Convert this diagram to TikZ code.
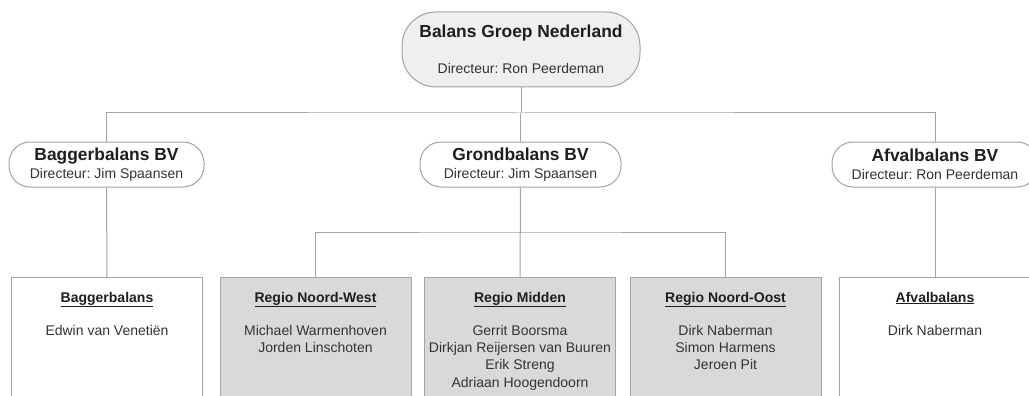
\documentclass[tikz,border=0pt]{standalone}
\usepackage{fontspec}
\setmainfont{Liberation Sans}
\frenchspacing
\definecolor{lin}{HTML}{A3A3A3}
\definecolor{topfill}{HTML}{EFEFEF}
\definecolor{grayfill}{HTML}{D9D9D9}
\definecolor{txt}{HTML}{333333}
\definecolor{ttl}{HTML}{1E1E1E}
\newcommand{\ttlf}{\fontsize{17.4}{18}\selectfont\bfseries\color{ttl}}
\newcommand{\hdr}[1]{{\bfseries\color{ttl}\underline{#1}}}
\begin{document}
\begin{tikzpicture}[x=1pt,y=-1pt,
  pill/.style={draw=lin, line width=1pt, fill=white, rounded corners=21pt, inner sep=0pt,
    minimum height=45pt, align=center, text=txt, font={\frenchspacing\fontsize{14}{18}\selectfont}},
  toppill/.style={pill, fill=topfill, rounded corners=34pt, minimum width=238pt, minimum height=75pt},
  wbox/.style={draw=lin, line width=1pt, fill=white, inner sep=0pt, minimum width=191pt,
    minimum height=160pt, anchor=north},
  gbox/.style={wbox, fill=grayfill},
  btext/.style={anchor=north, inner sep=0pt, align=center, text=txt,
    font={\frenchspacing\fontsize{14}{17.3}\selectfont}},
  conn/.style={draw=lin, line width=1pt}]
\useasboundingbox (0,0) rectangle (1029,396);
\clip (0,0) rectangle (1029,396);
\fill[white] (0,0) rectangle (1029,396);

% top
\node[toppill] (top) at (521,49.5) {{\ttlf Balans Groep Nederland}\\[18pt]Directeur: Ron Peerdeman};

% second level
\node[pill, minimum width=195pt] (bag) at (106.5,164.5) {{\ttlf Baggerbalans BV}\\Directeur: Jim Spaansen};
\node[pill, minimum width=201pt] (grond) at (520.5,164.5) {{\ttlf Grondbalans BV}\\Directeur: Jim Spaansen};
\node[pill, minimum width=206pt] (afv) at (935,164.5) {{\ttlf Afvalbalans BV}\\Directeur: Ron Peerdeman};

% bottom boxes
\node[wbox] (bbag) at (107,277) {};
\node[gbox] (bnw) at (315.5,277) {};
\node[gbox] (bmid) at (520,277) {};
\node[gbox] (bno) at (725.5,277) {};
\node[wbox] (bafv) at (935,277) {};

\node[btext] (tbag) at (107,291.8) {\hdr{Baggerbalans}\\[15.7pt]Edwin van Venetiën};
\node[btext] (tnw) at (315.5,291.8) {\hdr{Regio Noord-West}\\[15.7pt]Michael Warmenhoven\\Jorden Linschoten};
\node[btext] (tmid) at (520,291.8) {\hdr{Regio Midden}\\[15.7pt]Gerrit Boorsma\\Dirkjan Reijersen van Buuren\\Erik Streng\\Adriaan Hoogendoorn};
\node[btext] (tno) at (725.5,291.8) {\hdr{Regio Noord-Oost}\\[15.7pt]Dirk Naberman\\Simon Harmens\\Jeroen Pit};
\node[btext] (tafv) at (935,291.8) {\hdr{Afvalbalans}\\[15.7pt]Dirk Naberman};

% connectors
\coordinate (bus1) at (0,113);
\coordinate (bus2) at (0,232);
\draw[conn] (top.south) -- (top.south |- bus1);
\draw[conn] (bag.north) |- (top.south |- bus1) -| (afv.north);
\draw[conn] (grond.north) -- (grond.north |- bus1);
\draw[conn] (bag.south) -- (bbag.north);
\draw[conn] (afv.south) -- (bafv.north);
\draw[conn] (grond.south) -- (bmid.north);
\draw[conn] (bnw.north) |- (grond.south |- bus2) -| (bno.north);
\end{tikzpicture}
\end{document}
